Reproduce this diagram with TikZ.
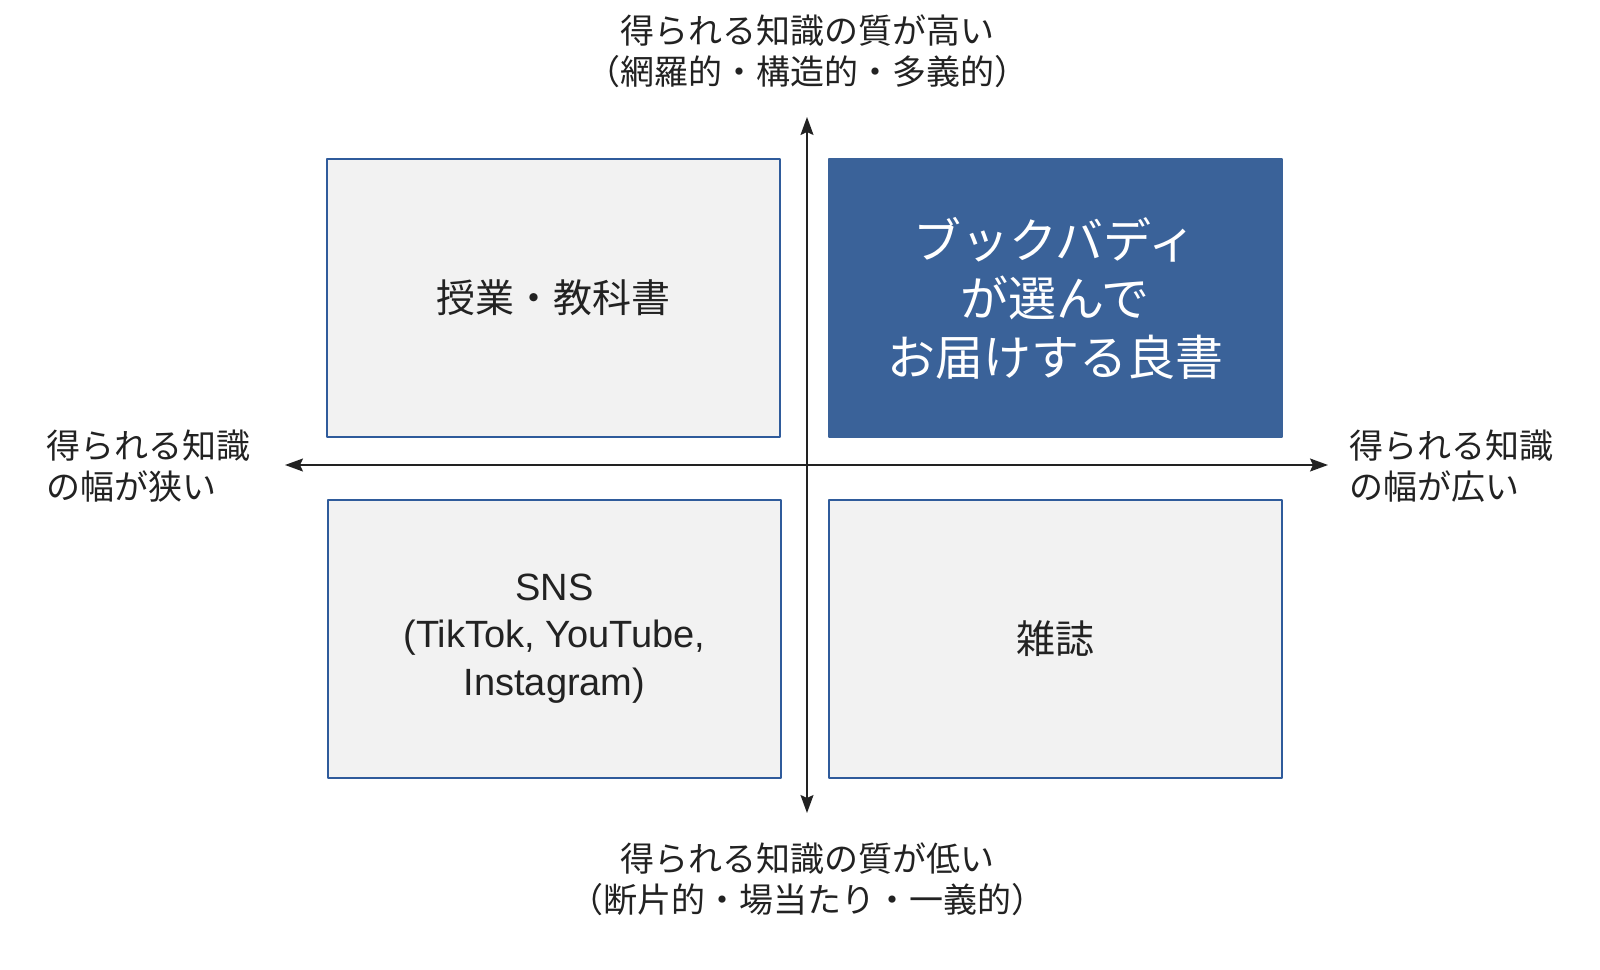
\documentclass[tikz,border=0pt]{standalone}
\usepackage{fontspec}
\setmainfont{Noto Sans CJK JP}
\newfontfamily\latinfont{Liberation Sans}
\usetikzlibrary{arrows.meta}
\definecolor{boxblue}{HTML}{2F5B9B}
\definecolor{boxgray}{HTML}{F2F2F2}
\definecolor{darkblue}{HTML}{3A6299}
\definecolor{inkgray}{HTML}{222222}
\begin{document}
\begin{tikzpicture}[x=1pt,y=-1pt,>={Stealth[length=18pt,width=13pt,inset=3pt]},line join=round,
	quad/.style={draw=boxblue,line width=2pt,fill=boxgray,minimum width=453pt,minimum height=278pt,
		align=center,text=inkgray,font=\fontsize{39}{48}\selectfont},
	axislabel/.style={text=inkgray,inner sep=0pt,font=\fontsize{34}{41}\selectfont}]
	\useasboundingbox (0,0) rectangle (1600,969);
	% quadrants
	\node[quad] (kyoka) at (553.5,298) {授業・教科書};
	\node[quad,fill=darkblue,draw=darkblue,text=white,font=\fontsize{48}{58.5}\selectfont] (buddy) at (1055,298) {ブックバディ\\が選んで\\お届けする良書};
	\node[quad,font=\latinfont\fontsize{38}{47.5}\selectfont] (sns) at (554.5,638.5) {SNS\\(TikTok, YouTube,\\Instagram)};
	\node[quad] (zasshi) at (1055,638.5) {雑誌};
	% axes
	\coordinate (top) at (807,117);
	\coordinate (bottom) at (807,813);
	\coordinate (left) at (285,465);
	\coordinate (right) at (1328,465);
	\draw[<->,line width=1.6pt,inkgray] (bottom)--(top);
	\draw[<->,line width=1.6pt,inkgray] (left)--(right);
	% axis labels
	\node[axislabel,align=center] (high) at (807,51) {得られる知識の質が高い\\（網羅的・構造的・多義的）};
	\node[axislabel,align=center] (low) at (807,879.5) {得られる知識の質が低い\\（断片的・場当たり・一義的）};
	\node[axislabel,align=left,anchor=west] (narrow) at (46,466.5) {得られる知識\\の幅が狭い};
	\node[axislabel,align=left,anchor=west] (wide) at (1349,466.5) {得られる知識\\の幅が広い};
\end{tikzpicture}
\end{document}
